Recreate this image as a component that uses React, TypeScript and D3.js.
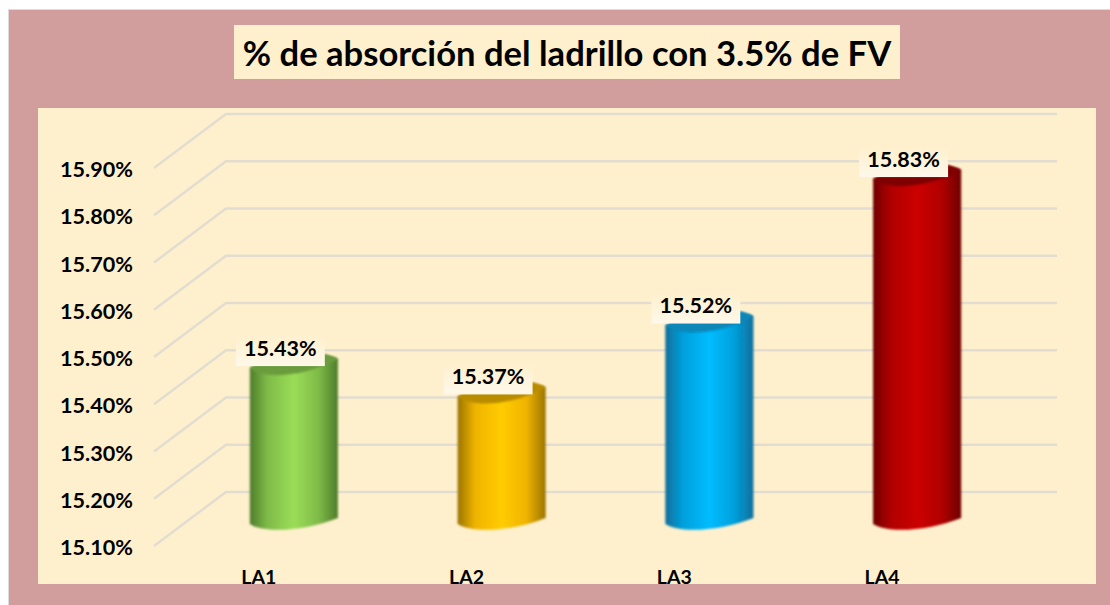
import React from "react";
import * as d3 from "d3";

const categories = ["LA1", "LA2", "LA3", "LA4"];
const values = [15.43, 15.37, 15.52, 15.83];
const tickValues = [15.1, 15.2, 15.3, 15.4, 15.5, 15.6, 15.7, 15.8, 15.9];
const titleText = "% de absorción del ladrillo con 3.5% de FV";
const palettes = [
  { edge: "#4f7d2c", soft: "#7fbb48", mid: "#9bdd58", top: "#6b9c3c" },
  { edge: "#9a7400", soft: "#f0b400", mid: "#ffcc00", top: "#b98c00" },
  { edge: "#0a6f9c", soft: "#04a0dc", mid: "#00bcff", top: "#0a86b8" },
  { edge: "#6e0000", soft: "#b00000", mid: "#cc0000", top: "#7f0000" },
];

const FONT = "Lato, 'Open Sans', sans-serif";

export default function App() {
  const y = d3.scaleLinear().domain([15.1, 15.9]).range([546, 168]);
  const x = d3.scaleBand<string>().domain(categories).range([190, 1021]).paddingInner(0.576).paddingOuter(0.288);
  const gridLeft = 154;
  const depthX = 72;
  const depthY = 54;
  const barLift = 22;
  const backRight = 1057;
  const w = x.bandwidth();

  return (
    <svg width={1110} height={605} style={{ position: "absolute", left: 0, top: 0, display: "block" }} fontFamily={FONT}>
      <defs>
        {palettes.map((p, i) => (
          <linearGradient key={i} id={`g${i}`} x1="0" x2="1" y1="0" y2="0">
            <stop offset="0" stopColor={p.edge} />
            <stop offset="0.2" stopColor={p.soft} />
            <stop offset="0.5" stopColor={p.mid} />
            <stop offset="0.78" stopColor={p.soft} />
            <stop offset="1" stopColor={p.edge} />
          </linearGradient>
        ))}
        <linearGradient id="labelFill" x1="0" x2="0" y1="0" y2="1">
          <stop offset="0" stopColor="#fef0cd" />
          <stop offset="1" stopColor="#fff8ea" />
        </linearGradient>
        <filter id="soft" x="-5%" y="-5%" width="110%" height="110%">
          <feGaussianBlur stdDeviation="0.8" />
        </filter>
      </defs>
      <rect x={0} y={0} width={1110} height={605} fill="#ffffff" />
      <rect x={8.5} y={9.5} width={1102} height={596} fill="#d19d9d" stroke="#dcdcdc" strokeWidth={1} />
      <rect x={38} y={108} width={1058} height={476} fill="#fef0cd" />
      <rect x={234} y={25} width={666} height={54} fill="#fef0cd" />
      <text x={567} y={66} textAnchor="middle" fontSize={34.6} fontWeight={700} fill="#000">{titleText}</text>

      {tickValues.map((t) => (
        <g key={t}>
          <path
            d={`M${gridLeft},${y(t)}L${gridLeft + depthX},${y(t) - depthY}L${backRight},${y(t) - depthY}`}
            fill="none" stroke="#e2ddd0" strokeWidth={2.5}
          />
          <text x={133} y={y(t) + 9} textAnchor="end" fontSize={21.6} fontWeight={700} fill="#000">
            {d3.format(".2f")(t)}%
          </text>
        </g>
      ))}

      {categories.map((c, i) => {
        const left = x(c)!;
        const right = left + w;
        const topL = y(values[i]) - barLift;
        const botL = y(15.1) - barLift;
        const p = palettes[i];
        const rear = `M${left},${topL}C${left + w * 0.3},${topL - 14} ${left + w * 0.8},${topL - 20} ${right},${topL - 9}`;
        const frontBack = `C${left + w * 0.6},${topL + 10} ${left + w * 0.15},${topL + 11} ${left},${topL}Z`;
        return (
          <g key={c}>
            <path
              d={`${rear}L${right},${botL - 6}C${left + w * 0.6},${botL + 8} ${left + w * 0.15},${botL + 9} ${left},${botL}Z`}
              fill={`url(#g${i})`}
              filter="url(#soft)"
            />
            <path d={`${rear}${frontBack}`} fill={p.top} filter="url(#soft)" />
            <rect x={left - 14} y={topL - 33} width={89} height={31} fill="url(#labelFill)" />
            <text x={left + 30.5} y={topL - 12.5} textAnchor="middle" fontSize={21.5} fontWeight={700} fill="#000">
              {d3.format(".2f")(values[i])}%
            </text>
            <text x={left + 9} y={584} textAnchor="middle" fontSize={19.5} fontWeight={700} fill="#000">{c}</text>
          </g>
        );
      })}
    </svg>
  );
}
